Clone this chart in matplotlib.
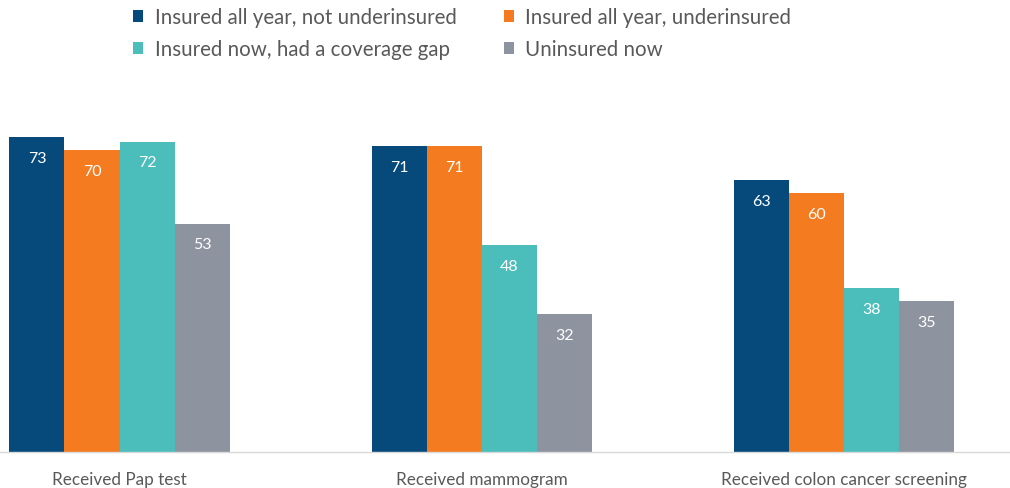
import matplotlib.pyplot as plt
import numpy as np
from matplotlib.patches import Patch

plt.rcParams["font.family"] = ["Lato", "DejaVu Sans"]

categories = ["Received Pap test", "Received mammogram", "Received colon cancer screening"]
series = ["Insured all year, not underinsured", "Insured all year, underinsured",
          "Insured now, had a coverage gap", "Uninsured now"]
not_underinsured = [73, 71, 63]
underinsured = [70, 71, 60]
coverage_gap = [72, 48, 38]
uninsured_now = [53, 32, 35]
colors = ["#064a7c", "#f47b20", "#4bbdbb", "#8d939f"]

values = [not_underinsured, underinsured, coverage_gap, uninsured_now]

fig = plt.figure(figsize=(10.10, 4.89), dpi=100)
ax = fig.add_axes([0, 36 / 489, 1, 431 / 489])

x = np.arange(len(categories))
w = 0.152
for i, (vals, col) in enumerate(zip(values, colors)):
    pos = x + (i - 1.5) * w
    bars = ax.bar(pos, vals, width=w, color=col, edgecolor="none")
    for b, v in zip(bars, vals):
        ax.text(b.get_x() + b.get_width() / 2, v - 4.8, str(v), ha="center", va="center",
                color="white", fontsize=11.5)

ax.set_xlim(-0.330, 2.458)
ax.set_ylim(0, 100)
ax.set_yticks([])
ax.set_xticks(x)
ax.set_xticklabels(categories, fontsize=12.3, color="#595959")
ax.tick_params(axis="x", length=0, pad=14)
for s in ["top", "right", "left"]:
    ax.spines[s].set_visible(False)
ax.spines["bottom"].set_color("#d9d9d9")
ax.spines["bottom"].set_linewidth(1)

# legend fills column-wise, so reorder to read row by row
order = [0, 2, 1, 3]
handles = [Patch(facecolor=colors[k], edgecolor="none") for k in order]
labels = [series[k] for k in order]
fig.legend(handles, labels, loc="upper left", bbox_to_anchor=(133 / 1010, 1 - 8 / 489), ncol=2,
           frameon=False, fontsize=14.8, handlelength=0.5, handleheight=0.5, borderpad=0,
           borderaxespad=0, handletextpad=0.55, columnspacing=2.3, labelcolor="#595959",
           labelspacing=0.6)

fig.savefig("out.png", dpi=100)
